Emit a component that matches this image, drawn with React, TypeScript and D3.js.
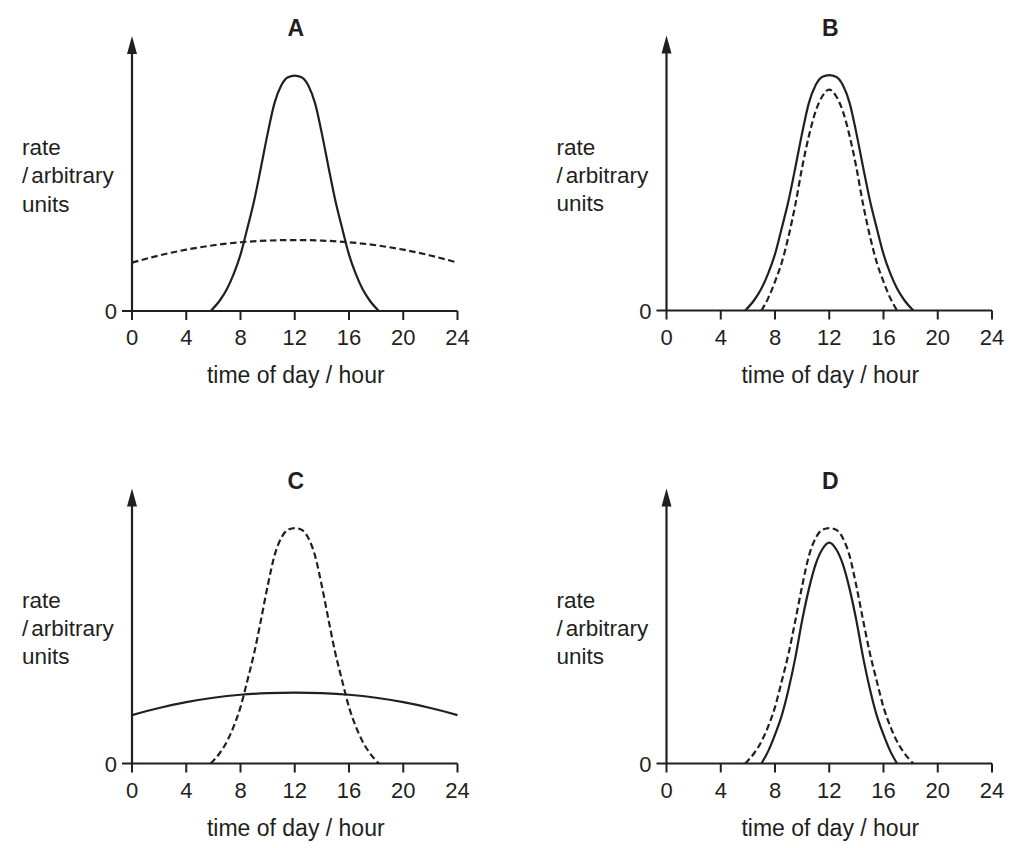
import * as d3 from 'd3';

// hours / rate readings, rate in arbitrary units (axis arrow tip = 100)
const bigBell: [number, number][] = [
  [5.8, 0], [6.5, 4], [7, 8], [7.5, 13.5], [8, 20.5], [8.5, 30], [9, 40], [9.5, 52],
  [10, 64.5], [10.5, 75.5], [11, 82], [11.5, 85], [12, 85.6], [12.5, 85], [13, 82],
  [13.5, 75.5], [14, 64.5], [14.5, 52], [15, 40], [15.5, 30], [16, 20.5], [16.5, 13.5],
  [17, 8], [17.5, 4], [18.2, 0],
]
const smallBell: [number, number][] = [
  [7, 0], [7.5, 4.5], [8, 10.5], [8.5, 17.5], [9, 27], [9.5, 38.5], [10, 52], [10.5, 63.5],
  [11, 72.5], [11.5, 78], [12, 80.3], [12.5, 78], [13, 72.5], [13.5, 63.5], [14, 52],
  [14.5, 38.5], [15, 27], [15.5, 17.5], [16, 10.5], [16.5, 4.5], [17, 0],
]
const flatCurve: [number, number][] = [
  [0, 17.6], [2, 20.2], [4, 22.3], [6, 23.9], [8, 25.0], [10, 25.6], [12, 25.8],
  [14, 25.6], [16, 25.0], [18, 23.9], [20, 22.3], [22, 20.2], [24, 17.6],
]

const hourTicks = [0, 4, 8, 12, 16, 20, 24]
const panelTitles = ['A', 'B', 'C', 'D']
const solidSeries = [bigBell, bigBell, flatCurve, smallBell]
const dashedSeries = [flatCurve, smallBell, bigBell, bigBell]

const ink = '#231f20'
const font = '"Liberation Sans", Arial, sans-serif'

// panel origins (x of the y axis, y of the zero line)
const origins = [
  { x0: 132, y0: 311 },
  { x0: 666.5, y0: 310.5 },
  { x0: 132, y0: 763.5 },
  { x0: 666.5, y0: 763.5 },
]

const Panel = ({ idx }: { idx: number }) => {
  const { x0, y0 } = origins[idx]
  const x = d3.scaleLinear().domain([0, 24]).range([x0, x0 + 325.5])
  const y = d3.scaleLinear().domain([0, 100]).range([y0, y0 - 275])

  const line = d3.line<[number, number]>()
    .x(d => x(d[0]))
    .y(d => y(d[1]))
    .curve(d3.curveMonotoneX)

  const top = y(100)

  return (
    <g>
      <text x={x(12) + 1} y={top} textAnchor="middle" fontWeight="bold" fontSize={23} fill={ink}>
        {panelTitles[idx]}
      </text>

      {/* y axis with arrow */}
      <line x1={x0} x2={x0} y1={y0} y2={top + 14} stroke={ink} strokeWidth={2.2} />
      <path d={`M${x0},${top} L${x0 + 5},${top + 18} L${x0 - 5},${top + 18} Z`} fill={ink} />

      {/* x axis */}
      <line x1={x0 - 10} x2={x(24)} y1={y0} y2={y0} stroke={ink} strokeWidth={2.2} />
      {hourTicks.map(t => (
        <g key={t}>
          <line x1={x(t)} x2={x(t)} y1={y0} y2={y0 + 9} stroke={ink} strokeWidth={2} />
          <text x={x(t)} y={y0 + 34} textAnchor="middle" fontSize={22} fill={ink}>{t}</text>
        </g>
      ))}
      <text x={x0 - 15} y={y0 + 8} textAnchor="end" fontSize={22} fill={ink}>0</text>

      <text x={x(12) + 1} y={y0 + 72} textAnchor="middle" fontSize={23} fill={ink}>
        time of day / hour
      </text>

      <g fontSize={22.5} fill={ink}>
        <text x={x0 - 110} y={y0 - 156}>rate</text>
        <text x={x0 - 110} y={y0 - 128}>/<tspan dx={3}>arbitrary</tspan></text>
        <text x={x0 - 110} y={y0 - 99.5}>units</text>
      </g>

      <path d={line(solidSeries[idx]) ?? ''} fill="none" stroke={ink} strokeWidth={2.2} />
      <path d={line(dashedSeries[idx]) ?? ''} fill="none" stroke={ink} strokeWidth={2.2}
        strokeDasharray="6.5,3.5" />
    </g>
  )
}

export default function App() {
  return (
    <svg
      width={1018}
      height={848}
      style={{ position: 'absolute', left: 0, top: 0, background: '#fff' }}
      fontFamily={font}
    >
      {panelTitles.map((_, i) => <Panel key={i} idx={i} />)}
    </svg>
  )
}
